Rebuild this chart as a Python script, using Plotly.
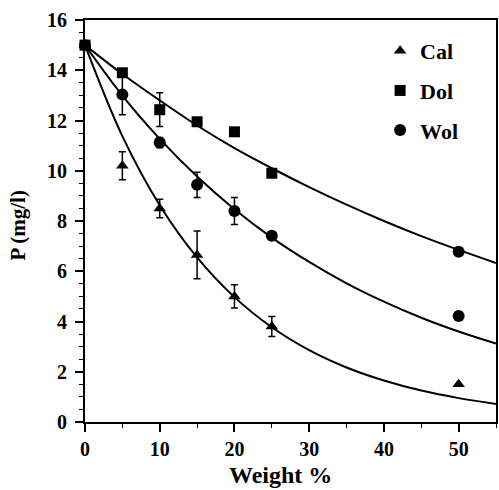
import plotly.graph_objects as go

# Measured points
cal_x = [0, 5, 10, 15, 20, 25, 50]
cal_y = [15.0, 10.2, 8.5, 6.65, 5.0, 3.8, 1.5]
cal_err = [0.0, 0.56, 0.37, 0.95, 0.46, 0.4, 0.0]

dol_x = [0, 5, 10, 15, 20, 25, 50]
dol_y = [15.0, 13.9, 12.43, 11.95, 11.55, 9.9, 6.78]
dol_err = [0.0, 0.12, 0.67, 0.15, 0.15, 0.1, 0.0]

wol_x = [0, 5, 10, 15, 20, 25, 50]
wol_y = [15.0, 13.03, 11.12, 9.44, 8.4, 7.41, 4.22]
wol_err = [0.0, 0.8, 0.2, 0.5, 0.54, 0.1, 0.0]

# Fitted curves
fit_x = [0, 5, 10, 15, 20, 25, 30, 35, 40, 45, 50, 55]
cal_fit = [15.0, 11.38, 8.63, 6.55, 4.97, 3.77, 2.86, 2.17, 1.65, 1.25, 0.95, 0.72]
dol_fit = [15.0, 13.85, 12.8, 11.8, 10.9, 10.1, 9.35, 8.65, 8.0, 7.4, 6.85, 6.33]
wol_fit = [15.0, 12.99, 11.27, 9.77, 8.47, 7.34, 6.37, 5.52, 4.79, 4.15, 3.6, 3.12]

x_ticks = [0, 10, 20, 30, 40, 50]
y_ticks = [0, 2, 4, 6, 8, 10, 12, 14, 16]

FONT = "Liberation Serif, Times New Roman, serif"
fig = go.Figure()

for fy in [cal_fit, dol_fit, wol_fit]:
    fig.add_trace(go.Scatter(x=fit_x, y=fy, mode="lines", line=dict(color="black", width=2, shape="spline"),
                             showlegend=False, hoverinfo="skip"))

def err(e):
    return dict(type="data", array=e, visible=True, color="black", thickness=1.5, width=3.5)

fig.add_trace(go.Scatter(x=cal_x, y=cal_y, mode="markers", name="Cal", legendgroup="a",
                         marker=dict(symbol="triangle-up", size=11, color="black"), error_y=err(cal_err)))
fig.add_trace(go.Scatter(x=dol_x[:-1], y=dol_y[:-1], mode="markers", name="Dol", legendgroup="b",
                         marker=dict(symbol="square", size=11, color="black"), error_y=err(dol_err[:-1])))
fig.add_trace(go.Scatter(x=dol_x[-1:], y=dol_y[-1:], mode="markers", showlegend=False, legendgroup="b",
                         marker=dict(symbol="circle", size=12, color="black")))
fig.add_trace(go.Scatter(x=wol_x, y=wol_y, mode="markers", name="Wol", legendgroup="c",
                         marker=dict(symbol="circle", size=12, color="black"), error_y=err(wol_err)))

fig.update_layout(
    width=499, height=490,
    margin=dict(l=85, r=1, t=20, b=68),
    paper_bgcolor="white", plot_bgcolor="white",
    font=dict(family=FONT, color="black"),
    legend=dict(x=0.718, y=0.975, xanchor="left", yanchor="top",
                font=dict(family=FONT, size=22, weight="bold", color="black"),
                bgcolor="rgba(0,0,0,0)", tracegroupgap=8, traceorder="grouped", itemwidth=30),
    xaxis=dict(range=[0, 55], tickvals=x_ticks, showgrid=False, zeroline=False,
               showline=True, linecolor="black", linewidth=2, mirror=True,
               ticks="outside", ticklen=8, tickwidth=1.5, tickcolor="black",
               tickfont=dict(family=FONT, size=20, weight="bold", color="black"),
               minor=dict(dtick=5, ticks="outside", ticklen=4, tickcolor="black", tickwidth=1),
               ticklabelstandoff=0),
    yaxis=dict(range=[0, 16], tickvals=y_ticks, showgrid=False, zeroline=False,
               showline=True, linecolor="black", linewidth=2, mirror=True,
               ticks="outside", ticklen=8, tickwidth=1.5, tickcolor="black",
               tickfont=dict(family=FONT, size=20, weight="bold", color="black"),
               minor=dict(dtick=0.5, ticks="outside", ticklen=4, tickcolor="black", tickwidth=1),
               ticklabelstandoff=4),
    annotations=[
        dict(text="Weight %", xref="paper", yref="paper", x=0.476, y=-0.132, showarrow=False,
             font=dict(family=FONT, size=24, weight="bold", color="black"), xanchor="center", yanchor="middle"),
        dict(text="P (mg/l)", xref="paper", yref="paper", x=-0.164, y=0.49, showarrow=False, textangle=-90,
             font=dict(family=FONT, size=21, weight="bold", color="black"), xanchor="center", yanchor="middle"),
    ],
)
for tr in fig.data:
    tr.cliponaxis = False if tr.mode == "markers" else True
fig.write_html("out.html", config={"displayModeBar": False},
               post_script="document.body.style.margin='0';document.body.style.overflow='hidden';")
